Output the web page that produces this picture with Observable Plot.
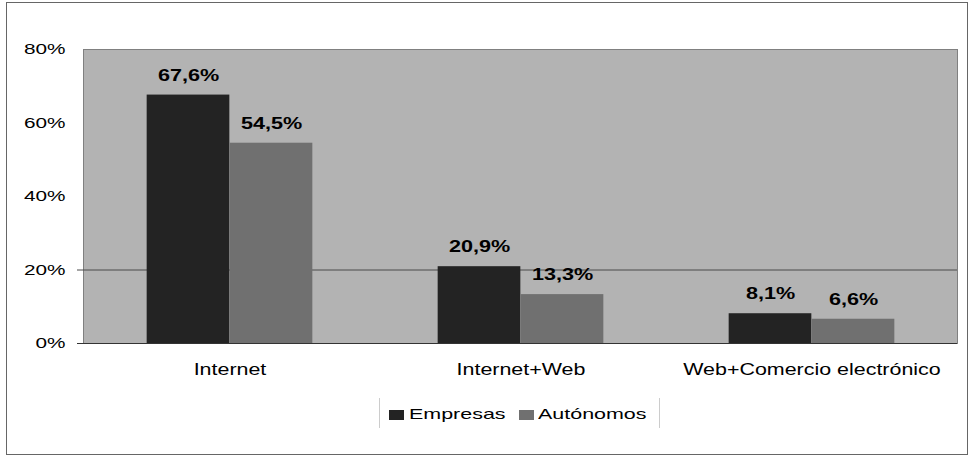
<!DOCTYPE html>
<html><head><meta charset="utf-8">
<script src="https://cdn.jsdelivr.net/npm/d3@7"></script>
<script src="https://cdn.jsdelivr.net/npm/@observablehq/plot@0.6"></script>
<style>
body{margin:0;background:#fff;font-family:Arial,"Liberation Sans",sans-serif}
#wrap{position:relative;width:970px;height:458px;overflow:hidden}
#border{position:absolute;left:6px;top:2px;width:962px;height:453px;border:1px solid #666;box-sizing:border-box}
#chart{position:absolute;left:0;top:0}
#legend{position:absolute;left:379px;top:398px;width:279px;height:30px;border-left:1px solid #ccc;border-right:1px solid #ccc}
.sw{position:absolute;width:15px;height:10px}
.lt{position:absolute;font-size:15px;line-height:15px;white-space:nowrap;transform-origin:left center;transform:scaleX(1.43);color:#000}
</style></head>
<body>
<div id="wrap"><div id="border"></div><div id="chart"></div><div id="legend"></div></div>
<script>
const categories = ["Internet", "Internet+Web", "Web+Comercio electrónico"];
const series = ["Empresas", "Autónomos"];
const empresas = [0.676, 0.209, 0.081];
const autonomos = [0.545, 0.133, 0.066];
const yTicks = [0, 0.2, 0.4, 0.6, 0.8];
const colors = ["#232323", "#707070"];

const W = 970, H = 458, mL = 83, mR = 13, mT = 49, mB = 115;
const bw = (W - mL - mR) / categories.length;
const barW = 83;

const rowsE = categories.map((c, i) => ({cat: c, v: empresas[i]}));
const rowsA = categories.map((c, i) => ({cat: c, v: autonomos[i]}));
const fmt = v => d3.format(".1f")(v * 100).replace(".", ",") + "%";

const chart = Plot.plot({
  width: W, height: H, marginLeft: mL, marginRight: mR, marginTop: mT, marginBottom: mB,
  style: {fontFamily: "Arial, 'Liberation Sans', sans-serif", fontSize: "16px", color: "#000", background: "transparent", overflow: "visible"},
  x: {domain: categories, padding: 0},
  y: {domain: [0, 0.8]},
  marks: [
    Plot.frame({fill: "#b3b3b3", stroke: "#808080"}),
    Plot.ruleY([0.2], {stroke: "#4a4a4a", insetLeft: -6}),
    Plot.barY(rowsE, {x: "cat", y: "v", fill: colors[0], insetLeft: bw / 2 - barW, insetRight: bw / 2}),
    Plot.barY(rowsA, {x: "cat", y: "v", fill: colors[1], insetLeft: bw / 2, insetRight: bw / 2 - barW}),
    Plot.ruleY([0], {stroke: "#333", insetLeft: -6}),
    Plot.axisY({ticks: yTicks, tickSize: 0, tickPadding: 18, tickFormat: d3.format(".0%"), fontSize: 15.5, label: null}),
    Plot.axisX({tickSize: 0, tickPadding: 20, fontSize: 16, label: null}),
    Plot.text(rowsE, {x: "cat", y: "v", text: d => fmt(d.v), dx: -barW / 2, dy: -20, fontWeight: "bold", fontSize: 17, fill: "#000"}),
    Plot.text(rowsA, {x: "cat", y: "v", text: d => fmt(d.v), dx: barW / 2, dy: -20, fontWeight: "bold", fontSize: 17, fill: "#000"})
  ]
});
document.getElementById("chart").appendChild(chart);

chart.querySelectorAll("text").forEach(t => {
  const bold = parseInt(getComputedStyle(t).fontWeight) >= 600;
  const s = bold ? 1.27 : 1.34;
  const x = +(t.getAttribute("x") || 0);
  t.removeAttribute("x");
  const tr = t.getAttribute("transform") || "";
  t.setAttribute("transform", `${tr} translate(${x},0) scale(${s},1)`);
});

const legend = document.getElementById("legend");
const swX = [9, 139], txX = [29, 158];
series.forEach((s, i) => {
  const sw = document.createElement("div");
  sw.className = "sw";
  sw.style.left = swX[i] + "px";
  sw.style.top = "12px";
  sw.style.background = colors[i];
  legend.appendChild(sw);
  const tx = document.createElement("div");
  tx.className = "lt";
  tx.style.left = txX[i] + "px";
  tx.style.top = "8px";
  tx.textContent = s;
  legend.appendChild(tx);
});
</script>
</body></html>
